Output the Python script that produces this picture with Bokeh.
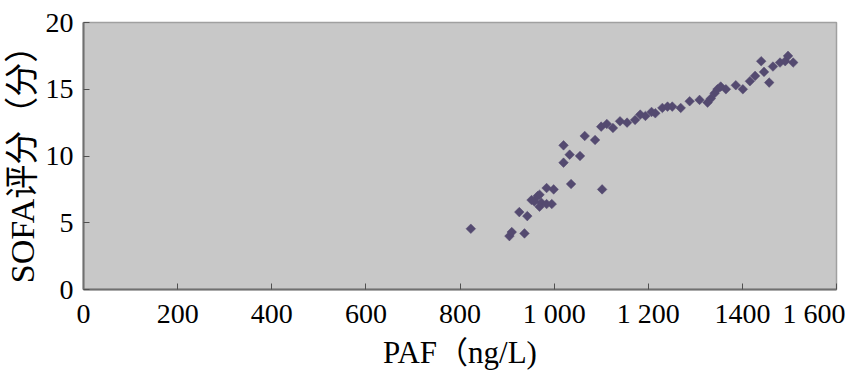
import math
from bokeh.plotting import figure
from bokeh.models import FixedTicker, ColumnDataSource
from bokeh.embed import file_html
from bokeh.resources import INLINE

paf = [823, 905, 910, 926, 937, 943, 952, 958, 965, 969, 973, 969, 984, 995, 984, 999,
       1020, 1020, 1033, 1036, 1055, 1065, 1087, 1100, 1102, 1112, 1125, 1140, 1155, 1172,
       1183, 1194, 1207, 1215, 1230, 1241, 1251, 1269, 1288, 1309, 1326, 1333, 1341, 1347,
       1354, 1365, 1386, 1401, 1416, 1427, 1440, 1446, 1457, 1465, 1480, 1491, 1497, 1508]
sofa = [4.55, 4.0, 4.3, 5.8, 4.2, 5.5, 6.7, 6.6, 7.0, 6.2, 6.5, 7.1, 6.4, 6.4, 7.6, 7.5,
        9.5, 10.8, 10.1, 7.9, 10.0, 11.5, 11.2, 12.2, 7.5, 12.4, 12.1, 12.6, 12.5, 12.7,
        13.1, 13.0, 13.3, 13.2, 13.6, 13.7, 13.7, 13.6, 14.1, 14.2, 14.0, 14.3, 14.7, 15.0,
        15.2, 15.0, 15.3, 15.0, 15.6, 16.0, 17.1, 16.3, 15.5, 16.7, 17.0, 17.1, 17.5, 17.0]

x_ticks = [0, 200, 400, 600, 800, 1000, 1200, 1400, 1600]
x_tick_labels = ["0", "200", "400", "600", "800", "1 000", "1 200", "1400", "1 600"]
y_ticks = [0, 5, 10, 15, 20]

FONT = "'Liberation Serif', 'Noto Sans CJK SC', serif"

p = figure(frame_width=753, frame_height=267, x_range=(0, 1600), y_range=(0, 20),
           output_backend="svg", toolbar_location=None,
           min_border_left=78, min_border_right=9, min_border_top=22, min_border_bottom=81)

p.background_fill_color = "#c8c8c8"
p.border_fill_color = "white"
p.outline_line_color = "#a0a0a0"
p.outline_line_width = 1.5
p.xgrid.visible = False
p.ygrid.visible = False

src = ColumnDataSource(dict(x=paf, y=sofa))
p.scatter("x", "y", source=src, marker="square", size=6.8, angle=math.pi / 4,
          fill_color="#544a70", line_color="#544a70", line_width=0.5)

for ax in (p.xaxis[0], p.yaxis[0]):
    ax.axis_line_color = "#707070"
    ax.axis_line_width = 2
    ax.major_tick_line_color = "#505050"
    ax.major_tick_in = 6
    ax.major_tick_out = 0
    ax.minor_tick_line_color = None
    ax.major_label_text_font = FONT
    ax.major_label_text_font_size = "28px"
    ax.major_label_text_color = "black"
    ax.axis_label_text_font = FONT
    ax.axis_label_text_font_style = "normal"
    ax.axis_label_text_color = "black"

p.xaxis.ticker = FixedTicker(ticks=x_ticks)
p.xaxis.major_label_overrides = {t: l for t, l in zip(x_ticks, x_tick_labels)}
p.xaxis.major_label_standoff = 8
p.xaxis.axis_label = "PAF（ng/L)"
p.xaxis.axis_label_text_font_size = "31px"
p.xaxis.axis_label_standoff = 3

p.yaxis.ticker = FixedTicker(ticks=y_ticks)
p.yaxis.major_label_standoff = 10
p.yaxis.axis_label = "SOFA评分（分）"
p.yaxis.axis_label_text_font_size = "34px"
p.yaxis.axis_label_standoff = 2

open("out.html", "w").write(file_html(p, INLINE))
